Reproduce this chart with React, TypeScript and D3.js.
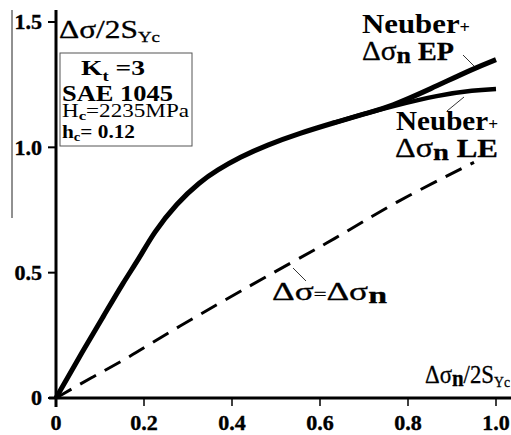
import React, { useEffect, useRef } from 'react';
import * as d3 from 'd3';

const FONT = '"Liberation Serif", "Times New Roman", Times, serif';

const xTickValues = [0, 0.2, 0.4, 0.6, 0.8, 1.0];
const xTickLabels = ['0', '0.2', '0.4', '0.6', '0.8', '1.0'];
const yTickValues = [0, 0.5, 1.0, 1.5];
const yTickLabels = ['0', '0.5', '1.0', '1.5'];

// common part of both Neuber curves
const neuberX = [0, 0.062, 0.107, 0.152, 0.191, 0.221, 0.275, 0.327, 0.366, 0.418, 0.479, 0.555, 0.63, 0.707, 0.76];
const neuberY = [0, 0.191, 0.323, 0.459, 0.562, 0.658, 0.778, 0.862, 0.909, 0.961, 1.009, 1.057, 1.097, 1.137, 1.162];
// Neuber + elastic-plastic nominal stress
const epX = [0.76, 0.85, 0.95, 1.0];
const epY = [1.162, 1.232, 1.315, 1.35];
// Neuber + linear-elastic nominal stress
const leX = [0.76, 0.87, 0.95, 1.0];
const leY = [1.162, 1.209, 1.228, 1.233];
// nominal stress line
const nominalX = [0, 0.084, 0.168, 0.252, 0.516, 0.63, 0.766, 0.95];
const nominalY = [0, 0.085, 0.164, 0.259, 0.523, 0.63, 0.778, 0.94];

type Part = { t: string; size: number; bold?: boolean; dy?: number };

const richText = (g: any, x: number, y: number, parts: Part[], width?: number) => {
    const text = g.append('text')
        .attr('x', x)
        .attr('y', y)
        .attr('font-family', FONT)
        .attr('fill', '#000');
    parts.forEach(p => {
        text.append('tspan')
            .attr('font-size', p.size)
            .attr('font-weight', p.bold ? 'bold' : 'normal')
            .attr('dy', p.dy ?? 0)
            .text(p.t);
    });
    if (width) {
        text.attr('textLength', width).attr('lengthAdjust', 'spacingAndGlyphs');
    }
    return text;
};

const App = () => {
    const svgRef = useRef<SVGSVGElement>(null);

    useEffect(() => {
        const svg = d3.select(svgRef.current);
        svg.selectAll('*').remove();

        const x = d3.scaleLinear().domain([0, 1]).range([56, 496]);
        const y = d3.scaleLinear().domain([0, 1.5]).range([398, 22]);

        const g = svg.append('g');

        // stray scan line at the far left
        g.append('line')
            .attr('x1', 12).attr('x2', 12)
            .attr('y1', 10).attr('y2', 218)
            .attr('stroke', '#222').attr('stroke-width', 1);

        // axes
        g.append('line')
            .attr('x1', x(0)).attr('x2', x(0))
            .attr('y1', 10).attr('y2', 407)
            .attr('stroke', '#000').attr('stroke-width', 3);
        g.append('line')
            .attr('x1', 49).attr('x2', 511)
            .attr('y1', y(0)).attr('y2', y(0))
            .attr('stroke', '#000').attr('stroke-width', 3);

        yTickValues.forEach((v, i) => {
            g.append('line')
                .attr('x1', 48).attr('x2', x(0))
                .attr('y1', y(v)).attr('y2', y(v))
                .attr('stroke', '#000').attr('stroke-width', 2);
            g.append('text')
                .attr('x', 42)
                .attr('y', y(v))
                .attr('dy', '0.33em')
                .attr('text-anchor', 'end')
                .attr('font-family', FONT)
                .attr('font-weight', 'bold')
                .attr('font-size', 22)
                .attr('stroke', '#000')
                .attr('stroke-width', 0.4)
                .text(yTickLabels[i]);
        });

        xTickValues.forEach((v, i) => {
            g.append('line')
                .attr('x1', x(v)).attr('x2', x(v))
                .attr('y1', y(0)).attr('y2', 406)
                .attr('stroke', '#000').attr('stroke-width', 1.5);
            g.append('text')
                .attr('x', x(v))
                .attr('y', 430)
                .attr('text-anchor', 'middle')
                .attr('font-family', FONT)
                .attr('font-weight', 'bold')
                .attr('font-size', 22)
                .attr('stroke', '#000')
                .attr('stroke-width', 0.4)
                .text(xTickLabels[i]);
        });

        // curves
        const line = d3.line<[number, number]>()
            .x(d => x(d[0]))
            .y(d => y(d[1]))
            .curve(d3.curveBasis);

        const pairs = (xs: number[], ys: number[]) => xs.map((v, i) => [v, ys[i]] as [number, number]);

        g.append('path')
            .attr('d', line(pairs(nominalX, nominalY)))
            .attr('fill', 'none')
            .attr('stroke', '#000')
            .attr('stroke-width', 3)
            .attr('stroke-dasharray', '18 10');

        g.append('path')
            .attr('d', line(pairs(neuberX.concat(epX.slice(1)), neuberY.concat(epY.slice(1)))))
            .attr('fill', 'none')
            .attr('stroke', '#000')
            .attr('stroke-width', 5)
            .attr('stroke-linejoin', 'round');
        g.append('path')
            .attr('d', line(pairs(neuberX.slice(-3).concat(leX.slice(1)), neuberY.slice(-3).concat(leY.slice(1)))))
            .attr('fill', 'none')
            .attr('stroke', '#000')
            .attr('stroke-width', 4.5);

        // leader lines
        const leaders = [
            [463, 55, 476, 68],
            [447, 111, 464, 97],
            [293, 268, 306, 281],
        ];
        leaders.forEach(([x1, y1, x2, y2]) => {
            g.append('line')
                .attr('x1', x1).attr('y1', y1)
                .attr('x2', x2).attr('y2', y2)
                .attr('stroke', '#000').attr('stroke-width', 0.8);
        });

        // info box
        g.append('rect')
            .attr('x', 60).attr('y', 53)
            .attr('width', 132).attr('height', 93)
            .attr('fill', 'none')
            .attr('stroke', '#555').attr('stroke-width', 1);

        richText(g, 81, 75, [
            { t: 'K', size: 22, bold: true },
            { t: 't', size: 15, bold: true, dy: 6 },
            { t: ' =3', size: 22, bold: true, dy: -6 },
        ], 64);
        richText(g, 62, 101, [{ t: 'SAE 1045', size: 24, bold: true }], 111);
        richText(g, 62, 117, [
            { t: 'H', size: 18 },
            { t: 'c', size: 13, bold: true, dy: 3 },
            { t: '=2235MPa', size: 18, dy: -3 },
        ], 127);
        richText(g, 62, 138, [
            { t: 'h', size: 19, bold: true },
            { t: 'c', size: 13, bold: true, dy: 3 },
            { t: '= 0.12', size: 19, bold: true, dy: -3 },
        ], 73);

        // axis titles
        richText(g, 59, 38, [
            { t: 'Δσ/2S', size: 25 },
            { t: 'Yc', size: 15, dy: 4 },
        ], 101).attr('stroke', '#000').attr('stroke-width', 0.3);
        richText(g, 425, 383, [
            { t: 'Δσ', size: 25 },
            { t: 'n', size: 23, bold: true, dy: 3 },
            { t: '/2S', size: 25, dy: -3 },
            { t: 'Yc', size: 15, dy: 4 },
        ], 85).attr('stroke', '#000').attr('stroke-width', 0.3);

        // curve labels
        richText(g, 362, 33, [
            { t: 'Neuber', size: 27, bold: true },
            { t: '+', size: 16, bold: true },
        ], 108);
        richText(g, 362, 60, [
            { t: 'Δσ', size: 27 },
            { t: 'n', size: 24, bold: true, dy: 3 },
            { t: ' EP', size: 26, bold: true, dy: -3 },
        ], 92).attr('stroke', '#000').attr('stroke-width', 0.3);
        richText(g, 396, 130, [
            { t: 'Neuber', size: 27, bold: true },
            { t: '+', size: 16, bold: true },
        ], 102);
        richText(g, 395, 157, [
            { t: 'Δσ', size: 27 },
            { t: 'n', size: 24, bold: true, dy: 3 },
            { t: ' LE', size: 26, bold: true, dy: -3 },
        ], 103).attr('stroke', '#000').attr('stroke-width', 0.3);
        richText(g, 272, 300, [
            { t: 'Δσ', size: 25 },
            { t: '=', size: 16 },
            { t: 'Δσ', size: 25 },
            { t: 'n', size: 24, bold: true, dy: 3 },
        ], 115).attr('stroke', '#000').attr('stroke-width', 0.3);
    }, []);

    return (
        <svg
            ref={svgRef}
            width={511}
            height={435}
            style={{ position: 'absolute', left: 0, top: 0, background: '#fff' }}
        />
    );
};

export default App;
